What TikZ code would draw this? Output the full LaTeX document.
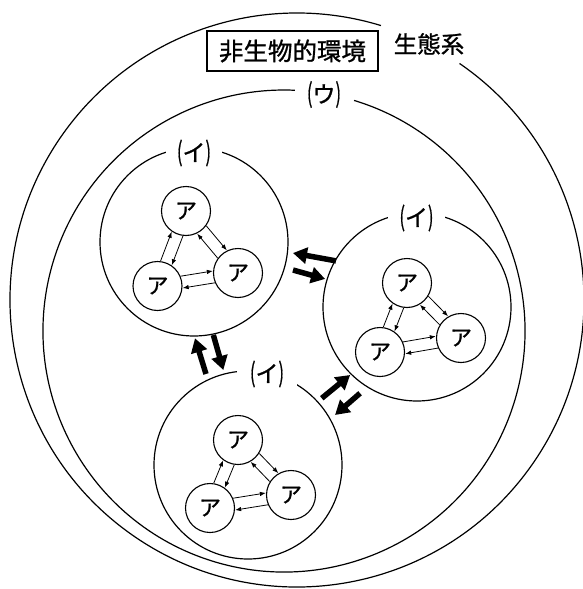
\documentclass[tikz,border=0pt]{standalone}
\usepackage{fontspec}
\usepackage{graphicx}
\newfontfamily\jp{Noto Sans CJK JP}[FakeBold=1]
\usetikzlibrary{calc,arrows.meta}
\newcommand{\kakko}[1]{\scalebox{0.7}[1.15]{(}#1\scalebox{0.7}[1.15]{)}}
\newcommand{\twoway}[2]{%
  \draw[thinarr] ($(#1)!6pt!90:(#2)$) -- ($(#2)!6pt!-90:(#1)$);
  \draw[thinarr] ($(#2)!6pt!90:(#1)$) -- ($(#1)!6pt!-90:(#2)$);}
\begin{document}
\begin{tikzpicture}[x=1pt,y=-1pt,
  ring/.style={line width=1.2pt},
  grp/.style={circle, draw, line width=1.2pt, minimum size=188pt, inner sep=0pt},
  sp/.style={circle, draw, line width=1.1pt, minimum size=49pt, inner sep=0pt, font=\jp\fontsize{22}{22}\selectfont},
  labfont/.style={font=\jp\fontsize{23}{23}\selectfont},
  lab/.style={labfont, fill=white, inner sep=0pt},
  thinarr/.style={line width=0.8pt, -{Latex[length=6pt,width=4.5pt]}, shorten <=24.5pt, shorten >=24.5pt},
  big/.style={line width=5.5pt, -{Triangle[length=14pt,width=16pt]}},
]
\fill[white] (0,0) rectangle (582,589);
\useasboundingbox (0,0) rectangle (582,589);

% ecosystem and (u) circles
\coordinate (Ceco) at (297,300);
\coordinate (Cu) at (284,331);
\draw[ring] ($(Ceco)+(-55.5:287)$) arc[start angle=-55.5, end angle=287, radius=287];
\draw[ring] ($(Cu)+(-73.1:241)$) arc[start angle=-73.1, end angle=272.6, radius=241];

\node[font=\jp\fontsize{23.5}{23.5}\selectfont] (eco) at (429,44) {生態系};
\node[draw, line width=1.2pt, minimum width=171pt, minimum height=40pt, inner sep=0pt,
      font=\jp\fontsize{24.5}{24.5}\selectfont] (abio) at (292.5,51) {非生物的環境};
\node[labfont] (lu) at (324,94.5) {\kakko{ウ}};

% (i) circles
\node[grp] (I1) at (194,242) {};
\node[grp] (I2) at (417,307) {};
\node[grp] (I3) at (248,465) {};
\node[lab, minimum width=56pt, minimum height=22pt] (l1) at (194,153) {\kakko{イ}};
\node[lab, minimum width=57pt, minimum height=22pt] (l2) at (416.5,218) {\kakko{イ}};
\node[lab, minimum width=60pt, minimum height=30pt] (l3) at (267,374) {\kakko{イ}};

% species
\node[sp] (T1) at (186,211) {ア};
\node[sp] (L1) at (157.5,286) {ア};
\node[sp] (R1) at (238,273) {ア};
\node[sp] (T2) at (407,283) {ア};
\node[sp] (L2) at (380,352) {ア};
\node[sp] (R2) at (461,338) {ア};
\node[sp] (T3) at (238,440) {ア};
\node[sp] (L3) at (210,508) {ア};
\node[sp] (R3) at (291,495) {ア};

\twoway{T1}{L1}\twoway{T1}{R1}\twoway{L1}{R1}
\twoway{T2}{L2}\twoway{T2}{R2}\twoway{L2}{R2}
\twoway{T3}{L3}\twoway{T3}{R3}\twoway{L3}{R3}

% big arrows between communities
\draw[big] ($(I1)!141.6pt!(I2)!21.6pt!90:(I2)$) -- ($(I1)!98.1pt!(I2)!17.1pt!90:(I2)$);
\draw[big] ($(I1)!102.9pt!(I2)!0.8pt!90:(I2)$) -- ($(I1)!136.2pt!(I2)!1.2pt!90:(I2)$);
\draw[big] ($(I1)!131.1pt!(I3)!19.4pt!-90:(I3)$) -- ($(I1)!93.8pt!(I3)!21.7pt!-90:(I3)$);
\draw[big] ($(I1)!94.9pt!(I3)!3.1pt!-90:(I3)$) -- ($(I1)!131.3pt!(I3)!1.6pt!-90:(I3)$);
\draw[big] ($(I2)!131.9pt!(I3)!1.6pt!90:(I3)$) -- ($(I2)!95.3pt!(I3)!4pt!90:(I3)$);
\draw[big] ($(I2)!100.5pt!(I3)!24.1pt!90:(I3)$) -- ($(I2)!133.6pt!(I3)!22.9pt!90:(I3)$);
\end{tikzpicture}
\end{document}
